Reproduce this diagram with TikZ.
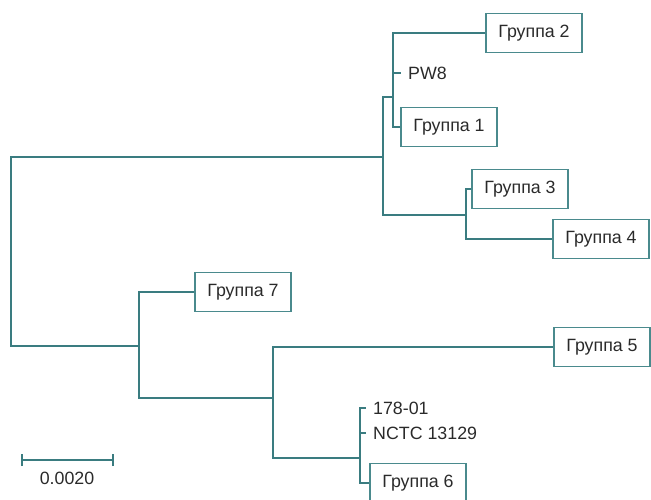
\documentclass[tikz,border=0pt]{standalone}
\usepackage{fontspec}
\setmainfont{Liberation Sans}
\definecolor{branch}{HTML}{3A7C80}
\definecolor{boxline}{HTML}{4A8A8D}
\definecolor{txt}{HTML}{2A2A2A}
\begin{document}
\begin{tikzpicture}[x=1pt,y=-1pt,
  br/.style={draw=branch,line width=1.1pt},
  grp/.style={draw=boxline,line width=1.1pt,minimum width=96pt,minimum height=39pt,inner sep=0pt,text=txt,font=\fontsize{17.8}{20}\selectfont},
  lab/.style={inner sep=0pt,anchor=west,text=txt,font=\fontsize{17.8}{20}\selectfont}]
\useasboundingbox (0,0) rectangle (651,500);
\clip (0,0) rectangle (651,500);
% leaves
\node[grp] (g2) at (534,33) {Группа 2};
\node[grp] (g1) at (449,127) {Группа 1};
\node[grp] (g3) at (520,189) {Группа 3};
\node[grp] (g4) at (601,239) {Группа 4};
\node[grp] (g7) at (243,292) {Группа 7};
\node[grp] (g5) at (602,347) {Группа 5};
\node[grp] (g6) at (418,483) {Группа 6};
\node[lab] (pw8) at (408,73) {PW8};
\node[lab] (s178) at (373,408) {178-01};
\node[lab] (nctc) at (373,433) {NCTC 13129};
\coordinate (tpw8) at (401,73);
\coordinate (t178) at (366,408);
\coordinate (tnctc) at (366,433);
% internal nodes
\coordinate (n0) at (11,251.5);
\coordinate (n1) at (383,157);
\coordinate (nA) at (393,97);
\coordinate (nB) at (466,215);
\coordinate (n7) at (139,346);
\coordinate (nC) at (273,398);
\coordinate (nD) at (360,458);
% branches
\draw[br] (n0) |- (n1);
\draw[br] (n0) |- (n7);
\draw[br] (n1) |- (nA);
\draw[br] (n1) |- (nB);
\draw[br] (nA) |- (g2.west);
\draw[br] (nA) |- (tpw8);
\draw[br] (nA) |- (g1.west);
\draw[br] (nB) |- (g3.west);
\draw[br] (nB) |- (g4.west);
\draw[br] (n7) |- (g7.west);
\draw[br] (n7) |- (nC);
\draw[br] (nC) |- (g5.west);
\draw[br] (nC) |- (nD);
\draw[br] (nD) |- (t178);
\draw[br] (nD) |- (tnctc);
\draw[br] (nD) |- (g6.west);
% scale bar
\coordinate (sb1) at (22,460);
\coordinate (sb2) at (113,460);
\draw[br] (sb1) -- (sb2);
\draw[br] ([yshift=-6pt]sb1) -- ([yshift=6pt]sb1);
\draw[br] ([yshift=-6pt]sb2) -- ([yshift=6pt]sb2);
\node[inner sep=0pt,text=txt,font=\fontsize{17.8}{20}\selectfont] (sbl) at (67,478) {0.0020};
\end{tikzpicture}
\end{document}
